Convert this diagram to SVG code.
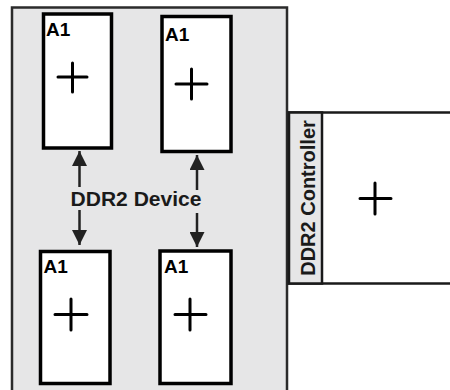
<svg xmlns="http://www.w3.org/2000/svg" width="450" height="390" viewBox="0 0 450 390">
<defs>
<style>
.chip{fill:#fff;stroke:#000;stroke-width:3.5}
.plus{stroke:#000;stroke-width:3;stroke-linecap:round;fill:none}
.lbl{font-family:"Liberation Sans",Arial,sans-serif;font-weight:bold;font-size:19px;fill:#000}
.big{font-family:"Liberation Sans",Arial,sans-serif;font-weight:bold;font-size:20px;fill:#1a1a1a}
.conn{stroke:#222;stroke-width:2.5;fill:none}
</style>
<marker id="ah" viewBox="0 0 10 10" refX="10" refY="5" markerWidth="6" markerHeight="6" markerUnits="strokeWidth" orient="auto">
<path d="M0,0 L10,5 L0,10 z" fill="#222"/>
</marker>
</defs>
<g id="device">
<rect x="12" y="7.5" width="275" height="400" fill="#e6e6e7" stroke="#2b2b2b" stroke-width="2.5"/>
</g>
<g id="chip1">
<rect class="chip" x="43.5" y="14" width="68" height="134"/>
<text class="lbl" x="46" y="36">A1</text>
<path class="plus" d="M58,77 H87 M72.5,63 V92"/>
</g>
<g id="chip2">
<rect class="chip" x="162" y="16.5" width="69" height="135"/>
<text class="lbl" x="165" y="41">A1</text>
<path class="plus" d="M176,84 H207 M191.5,69 V99"/>
</g>
<g id="chip3">
<rect class="chip" x="40.5" y="251.5" width="69.5" height="132"/>
<text class="lbl" x="43.5" y="273">A1</text>
<path class="plus" d="M55,314.5 H87 M71,299 V330"/>
</g>
<g id="chip4">
<rect class="chip" x="160" y="251" width="71" height="132.5"/>
<text class="lbl" x="164" y="273">A1</text>
<path class="plus" d="M175,314.5 H206 M190,299 V330"/>
</g>
<g id="label">
<text class="big" x="136" y="206" text-anchor="middle" textLength="131" lengthAdjust="spacingAndGlyphs">DDR2 Device</text>
</g>
<g id="connectors">
<line class="conn" x1="79.5" y1="187" x2="79.5" y2="151" marker-end="url(#ah)"/>
<line class="conn" x1="79.5" y1="210" x2="79.5" y2="245" marker-end="url(#ah)"/>
<line class="conn" x1="197" y1="190" x2="197" y2="155" marker-end="url(#ah)"/>
<line class="conn" x1="197" y1="213" x2="197" y2="247" marker-end="url(#ah)"/>
</g>
<g id="controller">
<rect x="289" y="112.5" width="170" height="171" fill="#fff" stroke="#1a1a1a" stroke-width="2.5"/>
<rect x="289" y="112.5" width="33" height="171" fill="#e6e6e7" stroke="#1a1a1a" stroke-width="2.5"/>
<text class="big" transform="translate(315,198) rotate(-90)" text-anchor="middle">DDR2 Controller</text>
<path class="plus" d="M360,198.5 H391 M375,183 V214"/>
</g>
</svg>
